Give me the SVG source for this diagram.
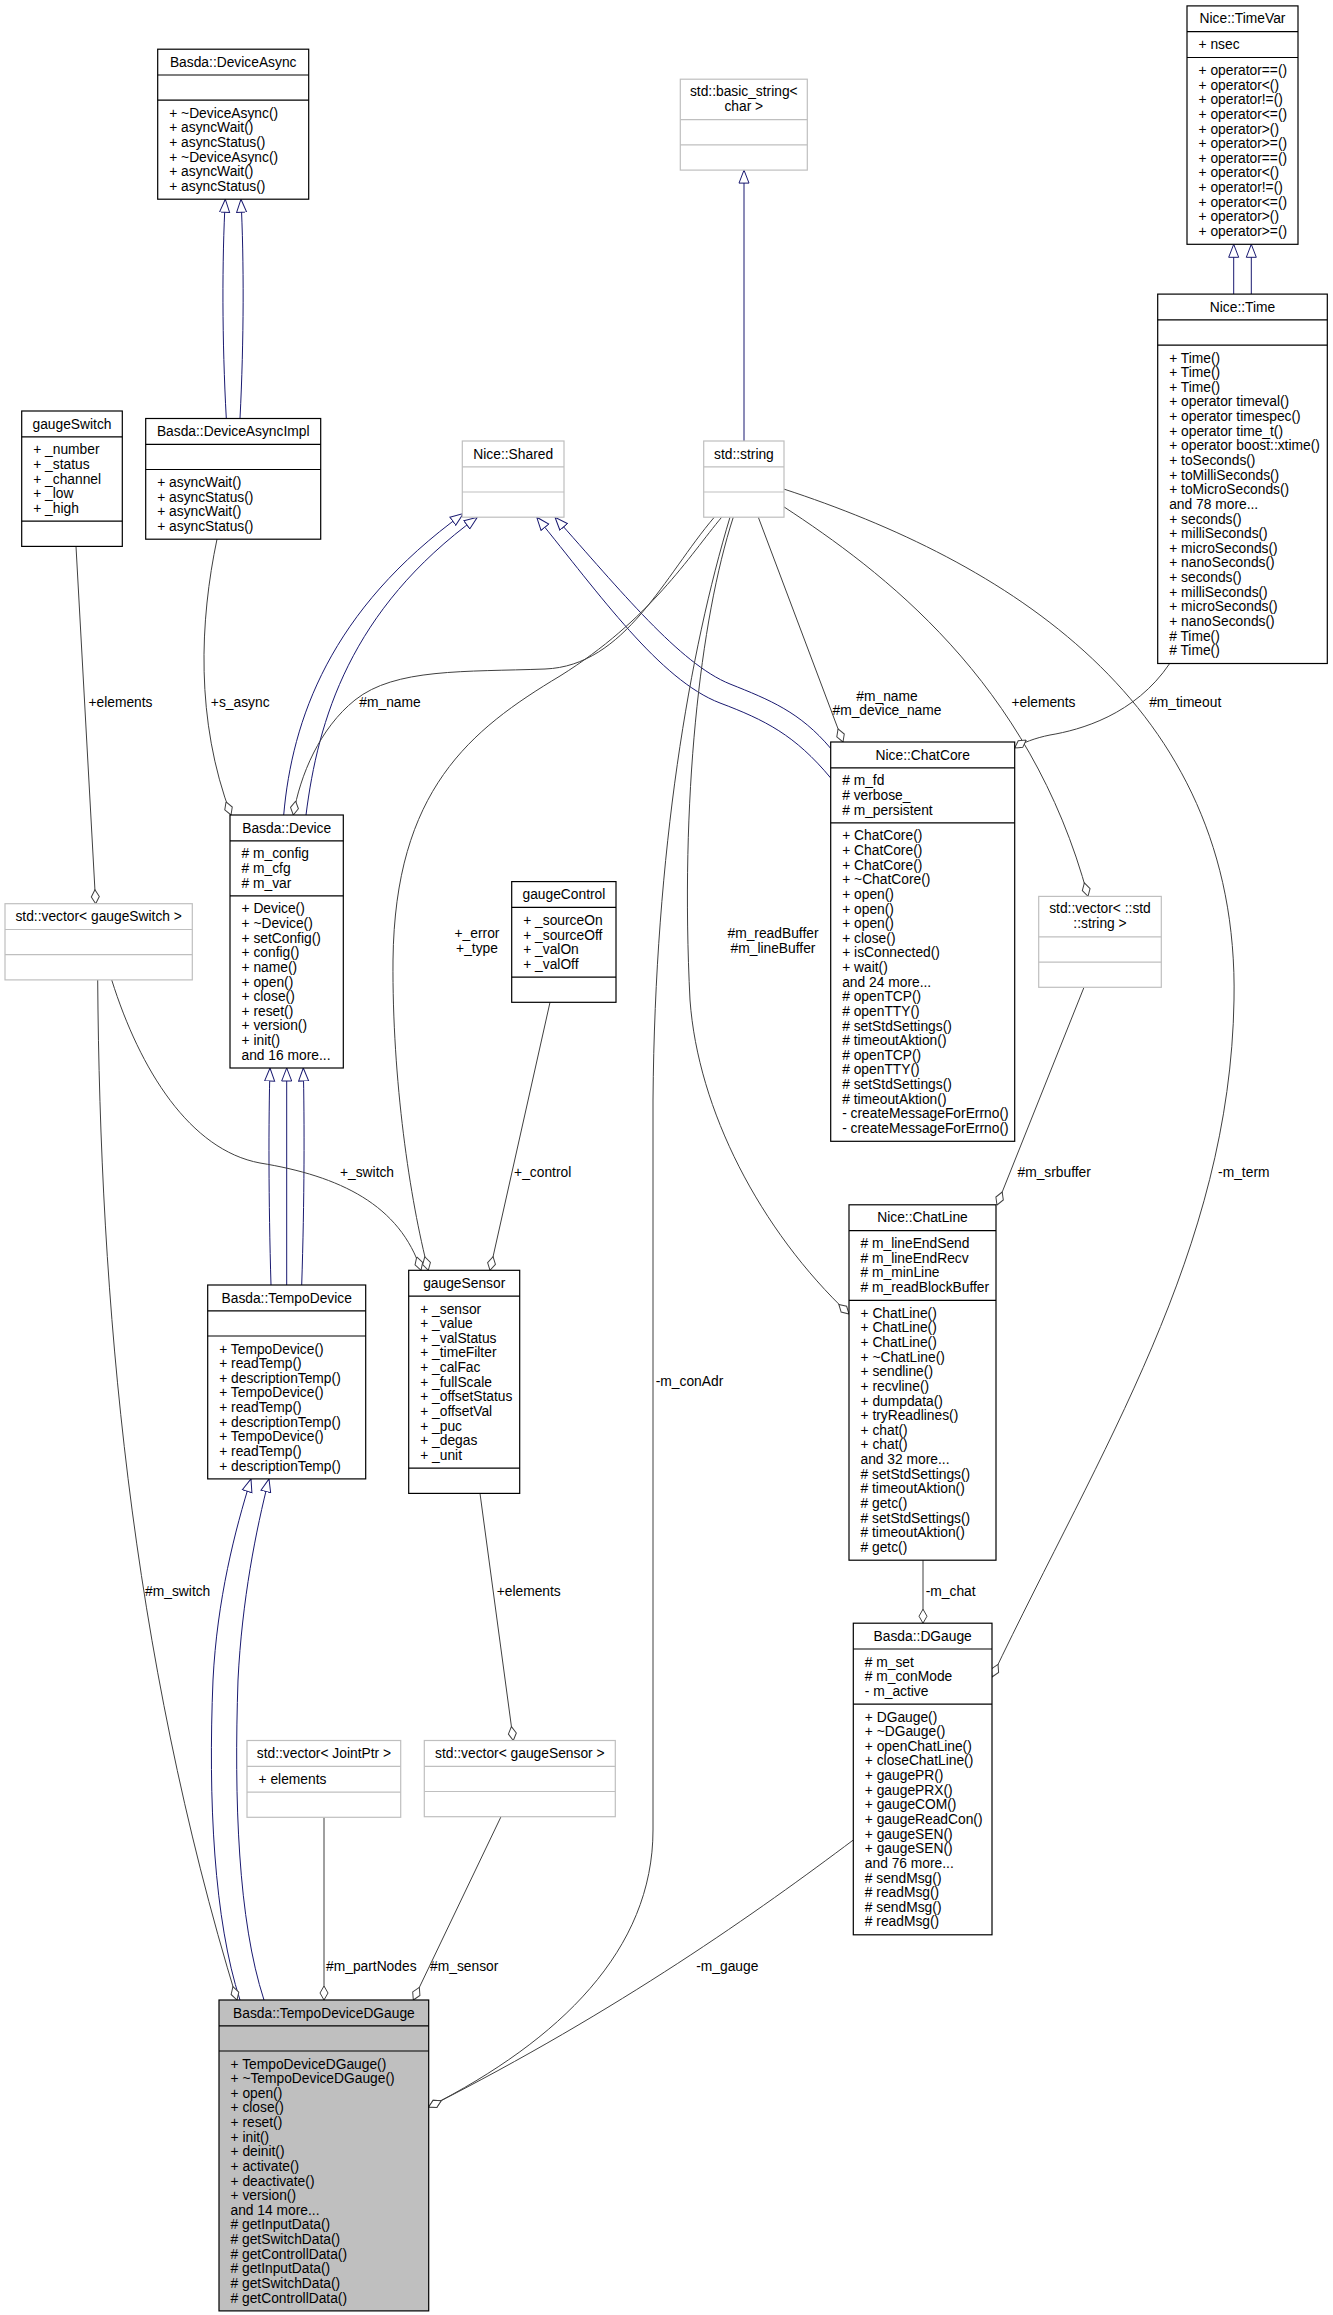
<svg xmlns="http://www.w3.org/2000/svg" width="1333" height="2315" viewBox="0 0 1333 2315">
<style>
text{font-family:'Liberation Sans',Arial,Helvetica,sans-serif;font-size:13.8px;fill:#000}
.t{text-anchor:middle}
.n{fill:#fff;stroke:#000;stroke-width:1.2}
.g{fill:#fff;stroke:#bfbfbf;stroke-width:1.2}
.f{fill:#bfbfbf;stroke:#000;stroke-width:1.2}
.s{stroke:#000;stroke-width:1.2}
.sg{stroke:#bfbfbf;stroke-width:1.2}
.e{fill:none;stroke:#404040;stroke-width:1;marker-end:url(#dia)}
.i{fill:none;stroke:#191970;stroke-width:1;marker-end:url(#tri)}
</style>
<defs>
<marker id="tri" viewBox="0 0 14 12" refX="13.5" refY="6" markerWidth="14" markerHeight="12" orient="auto" markerUnits="userSpaceOnUse"><path d="M0.5,1 L13.5,6 L0.5,11 Z" fill="#fff" stroke="#191970" stroke-width="1"/></marker>
<marker id="dia" viewBox="0 0 15 10" refX="14.5" refY="5" markerWidth="15" markerHeight="10" orient="auto" markerUnits="userSpaceOnUse"><path d="M0.5,5 L7.5,1 L14.5,5 L7.5,9 Z" fill="#fff" stroke="#404040" stroke-width="1"/></marker>
</defs>
<rect width="1333" height="2315" fill="#fff"/>
<g id="connectors">
<path class="i" d="M226.3,418.5 C222,340 222,260 225.3,199.2"/>
<path class="i" d="M240,418.5 C244,340 244,260 241,199.2"/>
<path class="i" d="M1233.7,294.1 L1233.7,244.3"/>
<path class="i" d="M1251.3,294.1 L1251.3,244.3"/>
<path class="i" d="M744,441 L744,170.1"/>
<path class="i" d="M283.7,815 C292,720 330,610 463.3,513.6"/>
<path class="i" d="M306,815 C318,720 350,610 477.3,517.2"/>
<path class="i" d="M830.7,748.4 C800,712 770,700 730,684 C680,664 620,590 555,517.2"/>
<path class="i" d="M830.7,778 C795,735 765,720 720,703 C660,680 600,595 536.7,517.2"/>
<path class="i" d="M271,1285 C268.5,1200 268.5,1120 270,1068"/>
<path class="i" d="M286.7,1285 L286.7,1068"/>
<path class="i" d="M301.7,1285 C304.5,1200 304.5,1120 303.3,1068"/>
<path class="i" d="M240,2000 C214,1920 208,1800 213,1680 C217,1600 235,1530 251,1478.9"/>
<path class="i" d="M264,2000 C238,1920 234,1800 238,1680 C242,1600 256,1530 269,1478.9"/>
<path class="e" d="M714.3,517.2 C665,575 625,666 545,669 C465,672 395,668 355,700 C320,728 300,775 293.3,815"/>
<path class="e" d="M721.7,517.2 C690,555 650,620 560,676 C470,730 395,790 393,960 C392,1080 410,1200 428.3,1270.3"/>
<path class="e" d="M111.7,979.9 C140,1070 190,1150 260,1163 C340,1176 400,1205 421,1270.3"/>
<path class="e" d="M76,546.4 L95.7,903.7"/>
<path class="e" d="M217,539.2 C200,620 195,720 231,815"/>
<path class="e" d="M758.3,517.2 L843,742"/>
<path class="e" d="M784,506.9 C880,570 1030,680 1088,896.4"/>
<path class="e" d="M1169.7,663.5 C1135,715 1080,730 1050,735 C1035,738 1022,743 1014.7,748"/>
<path class="e" d="M1084,987.3 L997,1205"/>
<path class="e" d="M784,489.1 C1000,560 1240,700 1234,1000 C1230,1250 1100,1450 992,1677"/>
<path class="e" d="M733.3,517.2 C700,620 680,800 690,1000 C698,1110 760,1230 849,1314"/>
<path class="e" d="M730,517.2 C690,650 655,850 653,1100 L653,1830 C653,1950 560,2040 428.7,2107"/>
<path class="e" d="M550,1002.3 L490,1270.3"/>
<path class="e" d="M480,1493.4 L513.3,1740.5"/>
<path class="e" d="M923,1560.2 L923,1623.2"/>
<path class="e" d="M97.7,979.9 C100,1300 130,1650 237,2000"/>
<path class="e" d="M324,1817.3 L324,2000"/>
<path class="e" d="M501,1816.7 L413.3,2000"/>
<path class="e" d="M853.3,1840 C760,1910 620,2010 428.7,2107"/>
<text class="t" x="120.5" y="707">+elements</text>
<text class="t" x="240.2" y="707">+s_async</text>
<text class="t" x="390" y="707">#m_name</text>
<text class="t" x="1043.5" y="707">+elements</text>
<text class="t" x="1185.2" y="707">#m_timeout</text>
<text class="t" x="887" y="700.5">#m_name</text>
<text class="t" x="887" y="714.5">#m_device_name</text>
<text class="t" x="477" y="938.4">+_error</text>
<text class="t" x="477" y="953.2">+_type</text>
<text class="t" x="773" y="938.4">#m_readBuffer</text>
<text class="t" x="773" y="953.2">#m_lineBuffer</text>
<text class="t" x="367" y="1176.8">+_switch</text>
<text class="t" x="542.7" y="1176.8">+_control</text>
<text class="t" x="1054.2" y="1176.8">#m_srbuffer</text>
<text class="t" x="1243.8" y="1176.8">-m_term</text>
<text class="t" x="689.5" y="1385.9">-m_conAdr</text>
<text class="t" x="177.7" y="1596">#m_switch</text>
<text class="t" x="528.7" y="1596">+elements</text>
<text class="t" x="950.7" y="1596">-m_chat</text>
<text class="t" x="371.3" y="1971.4">#m_partNodes</text>
<text class="t" x="464.2" y="1971.4">#m_sensor</text>
<text class="t" x="727.3" y="1971.4">-m_gauge</text>
</g>
<g id="DeviceAsync">
<rect class="n" x="157.7" y="49.2" width="151" height="150"/>
<line class="s" x1="157.7" y1="75" x2="308.7" y2="75"/><line class="s" x1="157.7" y1="100.2" x2="308.7" y2="100.2"/>
<text class="t" x="233.2" y="66.7">Basda::DeviceAsync</text>
<text x="169.2" y="117.7"><tspan x="169.2">+ ~DeviceAsync()</tspan><tspan x="169.2" dy="14.63">+ asyncWait()</tspan><tspan x="169.2" dy="14.63">+ asyncStatus()</tspan><tspan x="169.2" dy="14.63">+ ~DeviceAsync()</tspan><tspan x="169.2" dy="14.63">+ asyncWait()</tspan><tspan x="169.2" dy="14.63">+ asyncStatus()</tspan></text>
</g>
<g id="DeviceAsyncImpl">
<rect class="n" x="145.7" y="418.5" width="175" height="120.7"/>
<line class="s" x1="145.7" y1="444.3" x2="320.7" y2="444.3"/><line class="s" x1="145.7" y1="469.5" x2="320.7" y2="469.5"/>
<text class="t" x="233.2" y="436">Basda::DeviceAsyncImpl</text>
<text x="157.2" y="487"><tspan x="157.2">+ asyncWait()</tspan><tspan x="157.2" dy="14.63">+ asyncStatus()</tspan><tspan x="157.2" dy="14.63">+ asyncWait()</tspan><tspan x="157.2" dy="14.63">+ asyncStatus()</tspan></text>
</g>
<g id="gaugeSwitch">
<rect class="n" x="21.7" y="411" width="100.6" height="135.4"/>
<line class="s" x1="21.7" y1="436.8" x2="122.3" y2="436.8"/><line class="s" x1="21.7" y1="521.2" x2="122.3" y2="521.2"/>
<text class="t" x="72" y="428.5">gaugeSwitch</text>
<text x="33.2" y="454.3"><tspan x="33.2">+ _number</tspan><tspan x="33.2" dy="14.63">+ _status</tspan><tspan x="33.2" dy="14.63">+ _channel</tspan><tspan x="33.2" dy="14.63">+ _low</tspan><tspan x="33.2" dy="14.63">+ _high</tspan></text>
</g>
<g id="Shared">
<rect class="g" x="462.3" y="441" width="101.7" height="76.2"/>
<line class="sg" x1="462.3" y1="466.8" x2="564" y2="466.8"/><line class="sg" x1="462.3" y1="492" x2="564" y2="492"/>
<text class="t" x="513.2" y="458.5">Nice::Shared</text>
</g>
<g id="stdstring">
<rect class="g" x="703.7" y="441" width="80.3" height="76.2"/>
<line class="sg" x1="703.7" y1="466.8" x2="784" y2="466.8"/><line class="sg" x1="703.7" y1="492" x2="784" y2="492"/>
<text class="t" x="743.9" y="458.5">std::string</text>
</g>
<g id="basic_string">
<rect class="g" x="680.3" y="79.2" width="127" height="90.9"/>
<line class="sg" x1="680.3" y1="119.7" x2="807.3" y2="119.7"/><line class="sg" x1="680.3" y1="144.9" x2="807.3" y2="144.9"/>
<text class="t" x="743.8" y="96">std::basic_string&lt;</text>
<text class="t" x="743.8" y="110.6">char &gt;</text>
</g>
<g id="TimeVar">
<rect class="n" x="1187" y="5.9" width="111" height="238.4"/>
<line class="s" x1="1187" y1="31.7" x2="1298" y2="31.7"/><line class="s" x1="1187" y1="57.5" x2="1298" y2="57.5"/>
<text class="t" x="1242.5" y="23.4">Nice::TimeVar</text>
<text x="1198.5" y="49.2">+ nsec</text>
<text x="1198.5" y="75"><tspan x="1198.5">+ operator==()</tspan><tspan x="1198.5" dy="14.63">+ operator&lt;()</tspan><tspan x="1198.5" dy="14.63">+ operator!=()</tspan><tspan x="1198.5" dy="14.63">+ operator&lt;=()</tspan><tspan x="1198.5" dy="14.63">+ operator&gt;()</tspan><tspan x="1198.5" dy="14.63">+ operator&gt;=()</tspan><tspan x="1198.5" dy="14.63">+ operator==()</tspan><tspan x="1198.5" dy="14.63">+ operator&lt;()</tspan><tspan x="1198.5" dy="14.63">+ operator!=()</tspan><tspan x="1198.5" dy="14.63">+ operator&lt;=()</tspan><tspan x="1198.5" dy="14.63">+ operator&gt;()</tspan><tspan x="1198.5" dy="14.63">+ operator&gt;=()</tspan></text>
</g>
<g id="Time">
<rect class="n" x="1157.7" y="294.1" width="169.6" height="369.4"/>
<line class="s" x1="1157.7" y1="319.9" x2="1327.3" y2="319.9"/><line class="s" x1="1157.7" y1="345.1" x2="1327.3" y2="345.1"/>
<text class="t" x="1242.5" y="311.6">Nice::Time</text>
<text x="1169.2" y="362.6"><tspan x="1169.2">+ Time()</tspan><tspan x="1169.2" dy="14.63">+ Time()</tspan><tspan x="1169.2" dy="14.63">+ Time()</tspan><tspan x="1169.2" dy="14.63">+ operator timeval()</tspan><tspan x="1169.2" dy="14.63">+ operator timespec()</tspan><tspan x="1169.2" dy="14.63">+ operator time_t()</tspan><tspan x="1169.2" dy="14.63">+ operator boost::xtime()</tspan><tspan x="1169.2" dy="14.63">+ toSeconds()</tspan><tspan x="1169.2" dy="14.63">+ toMilliSeconds()</tspan><tspan x="1169.2" dy="14.63">+ toMicroSeconds()</tspan><tspan x="1169.2" dy="14.63">and 78 more...</tspan><tspan x="1169.2" dy="14.63">+ seconds()</tspan><tspan x="1169.2" dy="14.63">+ milliSeconds()</tspan><tspan x="1169.2" dy="14.63">+ microSeconds()</tspan><tspan x="1169.2" dy="14.63">+ nanoSeconds()</tspan><tspan x="1169.2" dy="14.63">+ seconds()</tspan><tspan x="1169.2" dy="14.63">+ milliSeconds()</tspan><tspan x="1169.2" dy="14.63">+ microSeconds()</tspan><tspan x="1169.2" dy="14.63">+ nanoSeconds()</tspan><tspan x="1169.2" dy="14.63"># Time()</tspan><tspan x="1169.2" dy="14.63"># Time()</tspan></text>
</g>
<g id="Device">
<rect class="n" x="230" y="815" width="113.3" height="253"/>
<line class="s" x1="230" y1="840.8" x2="343.3" y2="840.8"/><line class="s" x1="230" y1="895.9" x2="343.3" y2="895.9"/>
<text class="t" x="286.7" y="832.5">Basda::Device</text>
<text x="241.5" y="858.3"><tspan x="241.5"># m_config</tspan><tspan x="241.5" dy="14.63"># m_cfg</tspan><tspan x="241.5" dy="14.63"># m_var</tspan></text>
<text x="241.5" y="913.4"><tspan x="241.5">+ Device()</tspan><tspan x="241.5" dy="14.63">+ ~Device()</tspan><tspan x="241.5" dy="14.63">+ setConfig()</tspan><tspan x="241.5" dy="14.63">+ config()</tspan><tspan x="241.5" dy="14.63">+ name()</tspan><tspan x="241.5" dy="14.63">+ open()</tspan><tspan x="241.5" dy="14.63">+ close()</tspan><tspan x="241.5" dy="14.63">+ reset()</tspan><tspan x="241.5" dy="14.63">+ version()</tspan><tspan x="241.5" dy="14.63">+ init()</tspan><tspan x="241.5" dy="14.63">and 16 more...</tspan></text>
</g>
<g id="vector_gaugeSwitch">
<rect class="g" x="5" y="903.7" width="187.3" height="76.2"/>
<line class="sg" x1="5" y1="929.5" x2="192.3" y2="929.5"/><line class="sg" x1="5" y1="954.7" x2="192.3" y2="954.7"/>
<text class="t" x="98.7" y="921.2">std::vector&lt; gaugeSwitch &gt;</text>
</g>
<g id="gaugeControl">
<rect class="n" x="511.7" y="881.6" width="104.3" height="120.7"/>
<line class="s" x1="511.7" y1="907.4" x2="616" y2="907.4"/><line class="s" x1="511.7" y1="977.1" x2="616" y2="977.1"/>
<text class="t" x="563.9" y="899.1">gaugeControl</text>
<text x="523.2" y="924.9"><tspan x="523.2">+ _sourceOn</tspan><tspan x="523.2" dy="14.63">+ _sourceOff</tspan><tspan x="523.2" dy="14.63">+ _valOn</tspan><tspan x="523.2" dy="14.63">+ _valOff</tspan></text>
</g>
<g id="ChatCore">
<rect class="n" x="830.7" y="742" width="184" height="399.3"/>
<line class="s" x1="830.7" y1="767.8" x2="1014.7" y2="767.8"/><line class="s" x1="830.7" y1="822.9" x2="1014.7" y2="822.9"/>
<text class="t" x="922.7" y="759.5">Nice::ChatCore</text>
<text x="842.2" y="785.3"><tspan x="842.2"># m_fd</tspan><tspan x="842.2" dy="14.63"># verbose_</tspan><tspan x="842.2" dy="14.63"># m_persistent</tspan></text>
<text x="842.2" y="840.4"><tspan x="842.2">+ ChatCore()</tspan><tspan x="842.2" dy="14.63">+ ChatCore()</tspan><tspan x="842.2" dy="14.63">+ ChatCore()</tspan><tspan x="842.2" dy="14.63">+ ~ChatCore()</tspan><tspan x="842.2" dy="14.63">+ open()</tspan><tspan x="842.2" dy="14.63">+ open()</tspan><tspan x="842.2" dy="14.63">+ open()</tspan><tspan x="842.2" dy="14.63">+ close()</tspan><tspan x="842.2" dy="14.63">+ isConnected()</tspan><tspan x="842.2" dy="14.63">+ wait()</tspan><tspan x="842.2" dy="14.63">and 24 more...</tspan><tspan x="842.2" dy="14.63"># openTCP()</tspan><tspan x="842.2" dy="14.63"># openTTY()</tspan><tspan x="842.2" dy="14.63"># setStdSettings()</tspan><tspan x="842.2" dy="14.63"># timeoutAktion()</tspan><tspan x="842.2" dy="14.63"># openTCP()</tspan><tspan x="842.2" dy="14.63"># openTTY()</tspan><tspan x="842.2" dy="14.63"># setStdSettings()</tspan><tspan x="842.2" dy="14.63"># timeoutAktion()</tspan><tspan x="842.2" dy="14.63">- createMessageForErrno()</tspan><tspan x="842.2" dy="14.63">- createMessageForErrno()</tspan></text>
</g>
<g id="vector_string">
<rect class="g" x="1038.7" y="896.4" width="122.6" height="90.9"/>
<line class="sg" x1="1038.7" y1="936.9" x2="1161.3" y2="936.9"/><line class="sg" x1="1038.7" y1="962.1" x2="1161.3" y2="962.1"/>
<text class="t" x="1100" y="913.2">std::vector&lt; ::std</text>
<text class="t" x="1100" y="927.8">::string &gt;</text>
</g>
<g id="TempoDevice">
<rect class="n" x="207.7" y="1285" width="158" height="193.9"/>
<line class="s" x1="207.7" y1="1310.8" x2="365.7" y2="1310.8"/><line class="s" x1="207.7" y1="1336" x2="365.7" y2="1336"/>
<text class="t" x="286.7" y="1302.5">Basda::TempoDevice</text>
<text x="219.2" y="1353.5"><tspan x="219.2">+ TempoDevice()</tspan><tspan x="219.2" dy="14.63">+ readTemp()</tspan><tspan x="219.2" dy="14.63">+ descriptionTemp()</tspan><tspan x="219.2" dy="14.63">+ TempoDevice()</tspan><tspan x="219.2" dy="14.63">+ readTemp()</tspan><tspan x="219.2" dy="14.63">+ descriptionTemp()</tspan><tspan x="219.2" dy="14.63">+ TempoDevice()</tspan><tspan x="219.2" dy="14.63">+ readTemp()</tspan><tspan x="219.2" dy="14.63">+ descriptionTemp()</tspan></text>
</g>
<g id="gaugeSensor">
<rect class="n" x="408.7" y="1270.3" width="111" height="223.1"/>
<line class="s" x1="408.7" y1="1296.1" x2="519.7" y2="1296.1"/><line class="s" x1="408.7" y1="1468.2" x2="519.7" y2="1468.2"/>
<text class="t" x="464.2" y="1287.8">gaugeSensor</text>
<text x="420.2" y="1313.6"><tspan x="420.2">+ _sensor</tspan><tspan x="420.2" dy="14.63">+ _value</tspan><tspan x="420.2" dy="14.63">+ _valStatus</tspan><tspan x="420.2" dy="14.63">+ _timeFilter</tspan><tspan x="420.2" dy="14.63">+ _calFac</tspan><tspan x="420.2" dy="14.63">+ _fullScale</tspan><tspan x="420.2" dy="14.63">+ _offsetStatus</tspan><tspan x="420.2" dy="14.63">+ _offsetVal</tspan><tspan x="420.2" dy="14.63">+ _puc</tspan><tspan x="420.2" dy="14.63">+ _degas</tspan><tspan x="420.2" dy="14.63">+ _unit</tspan></text>
</g>
<g id="ChatLine">
<rect class="n" x="849" y="1204.8" width="147" height="355.4"/>
<line class="s" x1="849" y1="1230.6" x2="996" y2="1230.6"/><line class="s" x1="849" y1="1300.3" x2="996" y2="1300.3"/>
<text class="t" x="922.5" y="1222.3">Nice::ChatLine</text>
<text x="860.5" y="1248.1"><tspan x="860.5"># m_lineEndSend</tspan><tspan x="860.5" dy="14.63"># m_lineEndRecv</tspan><tspan x="860.5" dy="14.63"># m_minLine</tspan><tspan x="860.5" dy="14.63"># m_readBlockBuffer</tspan></text>
<text x="860.5" y="1317.8"><tspan x="860.5">+ ChatLine()</tspan><tspan x="860.5" dy="14.63">+ ChatLine()</tspan><tspan x="860.5" dy="14.63">+ ChatLine()</tspan><tspan x="860.5" dy="14.63">+ ~ChatLine()</tspan><tspan x="860.5" dy="14.63">+ sendline()</tspan><tspan x="860.5" dy="14.63">+ recvline()</tspan><tspan x="860.5" dy="14.63">+ dumpdata()</tspan><tspan x="860.5" dy="14.63">+ tryReadlines()</tspan><tspan x="860.5" dy="14.63">+ chat()</tspan><tspan x="860.5" dy="14.63">+ chat()</tspan><tspan x="860.5" dy="14.63">and 32 more...</tspan><tspan x="860.5" dy="14.63"># setStdSettings()</tspan><tspan x="860.5" dy="14.63"># timeoutAktion()</tspan><tspan x="860.5" dy="14.63"># getc()</tspan><tspan x="860.5" dy="14.63"># setStdSettings()</tspan><tspan x="860.5" dy="14.63"># timeoutAktion()</tspan><tspan x="860.5" dy="14.63"># getc()</tspan></text>
</g>
<g id="DGauge">
<rect class="n" x="853.3" y="1623.2" width="138.7" height="311.6"/>
<line class="s" x1="853.3" y1="1649" x2="992" y2="1649"/><line class="s" x1="853.3" y1="1704.1" x2="992" y2="1704.1"/>
<text class="t" x="922.7" y="1640.7">Basda::DGauge</text>
<text x="864.8" y="1666.5"><tspan x="864.8"># m_set</tspan><tspan x="864.8" dy="14.63"># m_conMode</tspan><tspan x="864.8" dy="14.63">- m_active</tspan></text>
<text x="864.8" y="1721.6"><tspan x="864.8">+ DGauge()</tspan><tspan x="864.8" dy="14.63">+ ~DGauge()</tspan><tspan x="864.8" dy="14.63">+ openChatLine()</tspan><tspan x="864.8" dy="14.63">+ closeChatLine()</tspan><tspan x="864.8" dy="14.63">+ gaugePR()</tspan><tspan x="864.8" dy="14.63">+ gaugePRX()</tspan><tspan x="864.8" dy="14.63">+ gaugeCOM()</tspan><tspan x="864.8" dy="14.63">+ gaugeReadCon()</tspan><tspan x="864.8" dy="14.63">+ gaugeSEN()</tspan><tspan x="864.8" dy="14.63">+ gaugeSEN()</tspan><tspan x="864.8" dy="14.63">and 76 more...</tspan><tspan x="864.8" dy="14.63"># sendMsg()</tspan><tspan x="864.8" dy="14.63"># readMsg()</tspan><tspan x="864.8" dy="14.63"># sendMsg()</tspan><tspan x="864.8" dy="14.63"># readMsg()</tspan></text>
</g>
<g id="vector_JointPtr">
<rect class="g" x="247" y="1740.5" width="153.7" height="76.8"/>
<line class="sg" x1="247" y1="1766.3" x2="400.7" y2="1766.3"/><line class="sg" x1="247" y1="1792.1" x2="400.7" y2="1792.1"/>
<text class="t" x="323.9" y="1758">std::vector&lt; JointPtr &gt;</text>
<text x="258.5" y="1783.8">+ elements</text>
</g>
<g id="vector_gaugeSensor">
<rect class="g" x="424.3" y="1740.5" width="191" height="76.2"/>
<line class="sg" x1="424.3" y1="1766.3" x2="615.3" y2="1766.3"/><line class="sg" x1="424.3" y1="1791.5" x2="615.3" y2="1791.5"/>
<text class="t" x="519.8" y="1758">std::vector&lt; gaugeSensor &gt;</text>
</g>
<g id="TempoDeviceDGauge">
<rect class="f" x="219" y="2000" width="209.7" height="310.9"/>
<line class="s" x1="219" y1="2025.8" x2="428.7" y2="2025.8"/><line class="s" x1="219" y1="2051" x2="428.7" y2="2051"/>
<text class="t" x="323.9" y="2017.5">Basda::TempoDeviceDGauge</text>
<text x="230.5" y="2068.5"><tspan x="230.5">+ TempoDeviceDGauge()</tspan><tspan x="230.5" dy="14.63">+ ~TempoDeviceDGauge()</tspan><tspan x="230.5" dy="14.63">+ open()</tspan><tspan x="230.5" dy="14.63">+ close()</tspan><tspan x="230.5" dy="14.63">+ reset()</tspan><tspan x="230.5" dy="14.63">+ init()</tspan><tspan x="230.5" dy="14.63">+ deinit()</tspan><tspan x="230.5" dy="14.63">+ activate()</tspan><tspan x="230.5" dy="14.63">+ deactivate()</tspan><tspan x="230.5" dy="14.63">+ version()</tspan><tspan x="230.5" dy="14.63">and 14 more...</tspan><tspan x="230.5" dy="14.63"># getInputData()</tspan><tspan x="230.5" dy="14.63"># getSwitchData()</tspan><tspan x="230.5" dy="14.63"># getControllData()</tspan><tspan x="230.5" dy="14.63"># getInputData()</tspan><tspan x="230.5" dy="14.63"># getSwitchData()</tspan><tspan x="230.5" dy="14.63"># getControllData()</tspan></text>
</g>
</svg>
